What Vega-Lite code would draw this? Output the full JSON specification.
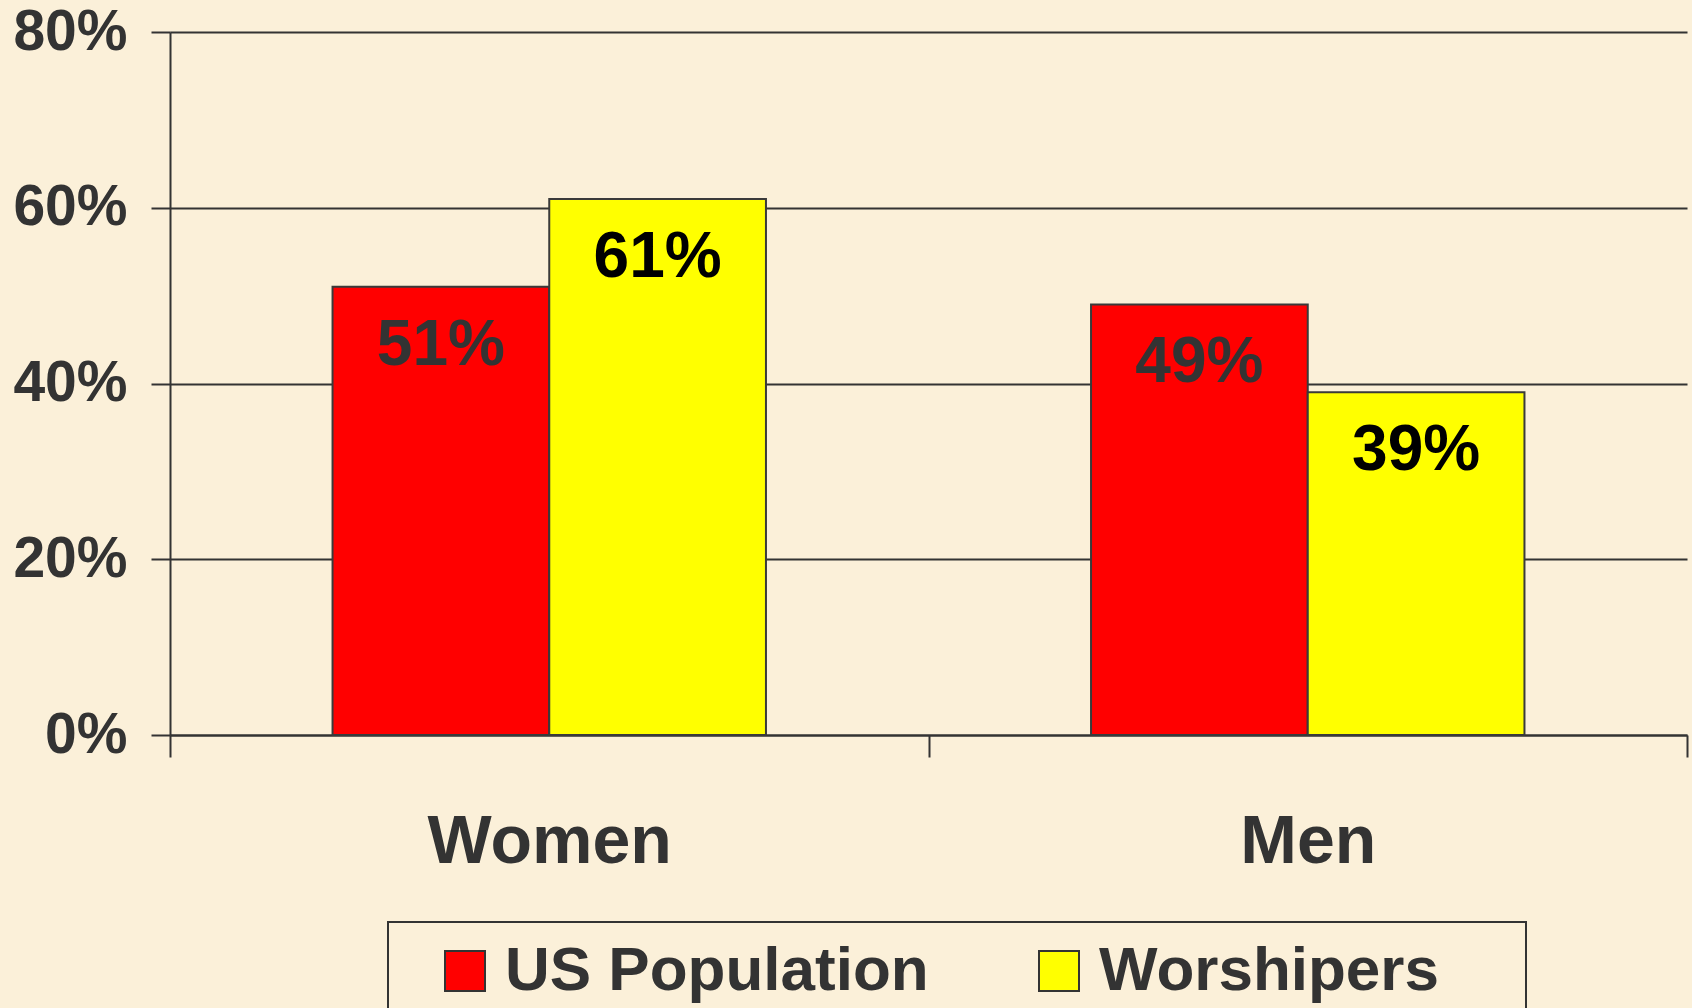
{
  "$schema": "https://vega.github.io/schema/vega-lite/v6.json",
  "width": 1517,
  "height": 703,
  "autosize": {"type": "none"},
  "padding": {"left": 170, "top": 32, "right": 5, "bottom": 273},
  "background": "#FBF0D9",
  "config": {"view": {"stroke": null}, "font": "Liberation Sans"},
  "data": {
    "values": [
      {"group": "Women", "series": "US Population", "value": 0.51},
      {"group": "Women", "series": "Worshipers", "value": 0.61},
      {"group": "Men", "series": "US Population", "value": 0.49},
      {"group": "Men", "series": "Worshipers", "value": 0.39}
    ]
  },
  "encoding": {
    "x": {
      "field": "group", "type": "nominal", "sort": ["Women", "Men"],
      "scale": {"paddingInner": 0, "paddingOuter": 0},
      "axis": {
        "title": null, "labelAngle": 0, "labelFontSize": 68, "labelFontWeight": "bold",
        "labelColor": "#333333", "labelPadding": 51, "tickSize": 22, "tickBand": "extent",
        "tickColor": "#333333", "tickWidth": 2, "domainColor": "#333333", "domainWidth": 2,
        "grid": false, "labelLimit": 1000
      }
    },
    "xOffset": {
      "field": "series", "type": "nominal",
      "scale": {"paddingInner": 0, "paddingOuter": 0.75}
    },
    "y": {
      "field": "value", "type": "quantitative",
      "scale": {"domain": [0, 0.8]},
      "axis": {
        "title": null, "values": [0, 0.2, 0.4, 0.6, 0.8], "format": ".0%",
        "labelFontSize": 57, "labelFontWeight": "bold", "labelColor": "#333333",
        "labelPadding": 24, "tickSize": 19, "tickColor": "#333333", "tickWidth": 2,
        "domainColor": "#333333", "domainWidth": 2, "grid": true, "gridColor": "#333333",
        "gridWidth": 2, "gridOpacity": 1, "labelFlush": false, "labelOverlap": false
      }
    }
  },
  "layer": [
    {
      "mark": {"type": "bar", "stroke": "#3a3a3a", "strokeWidth": 2},
      "encoding": {
        "color": {
          "field": "series", "type": "nominal",
          "scale": {"domain": ["US Population", "Worshipers"], "range": ["#FF0000", "#FFFF00"]},
          "legend": {
            "orient": "none", "legendX": 218, "legendY": 890, "direction": "horizontal",
            "title": null, "symbolType": "square", "symbolSize": 1600,
            "symbolStrokeColor": "#333333", "symbolStrokeWidth": 2, "symbolOpacity": 1,
            "labelFontSize": 62, "labelFontWeight": "bold", "labelColor": "#333333",
            "labelOffset": 9, "columnPadding": 71, "padding": 18, "strokeColor": "#333333",
            "symbolOffset": 28, "labelLimit": 1000,
            "labelExpr": "datum.label == 'Worshipers' ? datum.label + '\u00a0\u00a0\u00a0\u00a0\u200b' : datum.label",
            "encode": {"legend": {"update": {"strokeWidth": {"value": 2}}}}
          }
        }
      }
    },
    {
      "mark": {"type": "text", "dy": 59, "baseline": "middle", "fontSize": 64, "fontWeight": "bold"},
      "encoding": {
        "text": {"field": "value", "type": "quantitative", "format": ".0%"},
        "color": {
          "condition": {"test": "datum.series === 'US Population'", "value": "#333333"},
          "value": "#000000"
        }
      }
    }
  ]
}
